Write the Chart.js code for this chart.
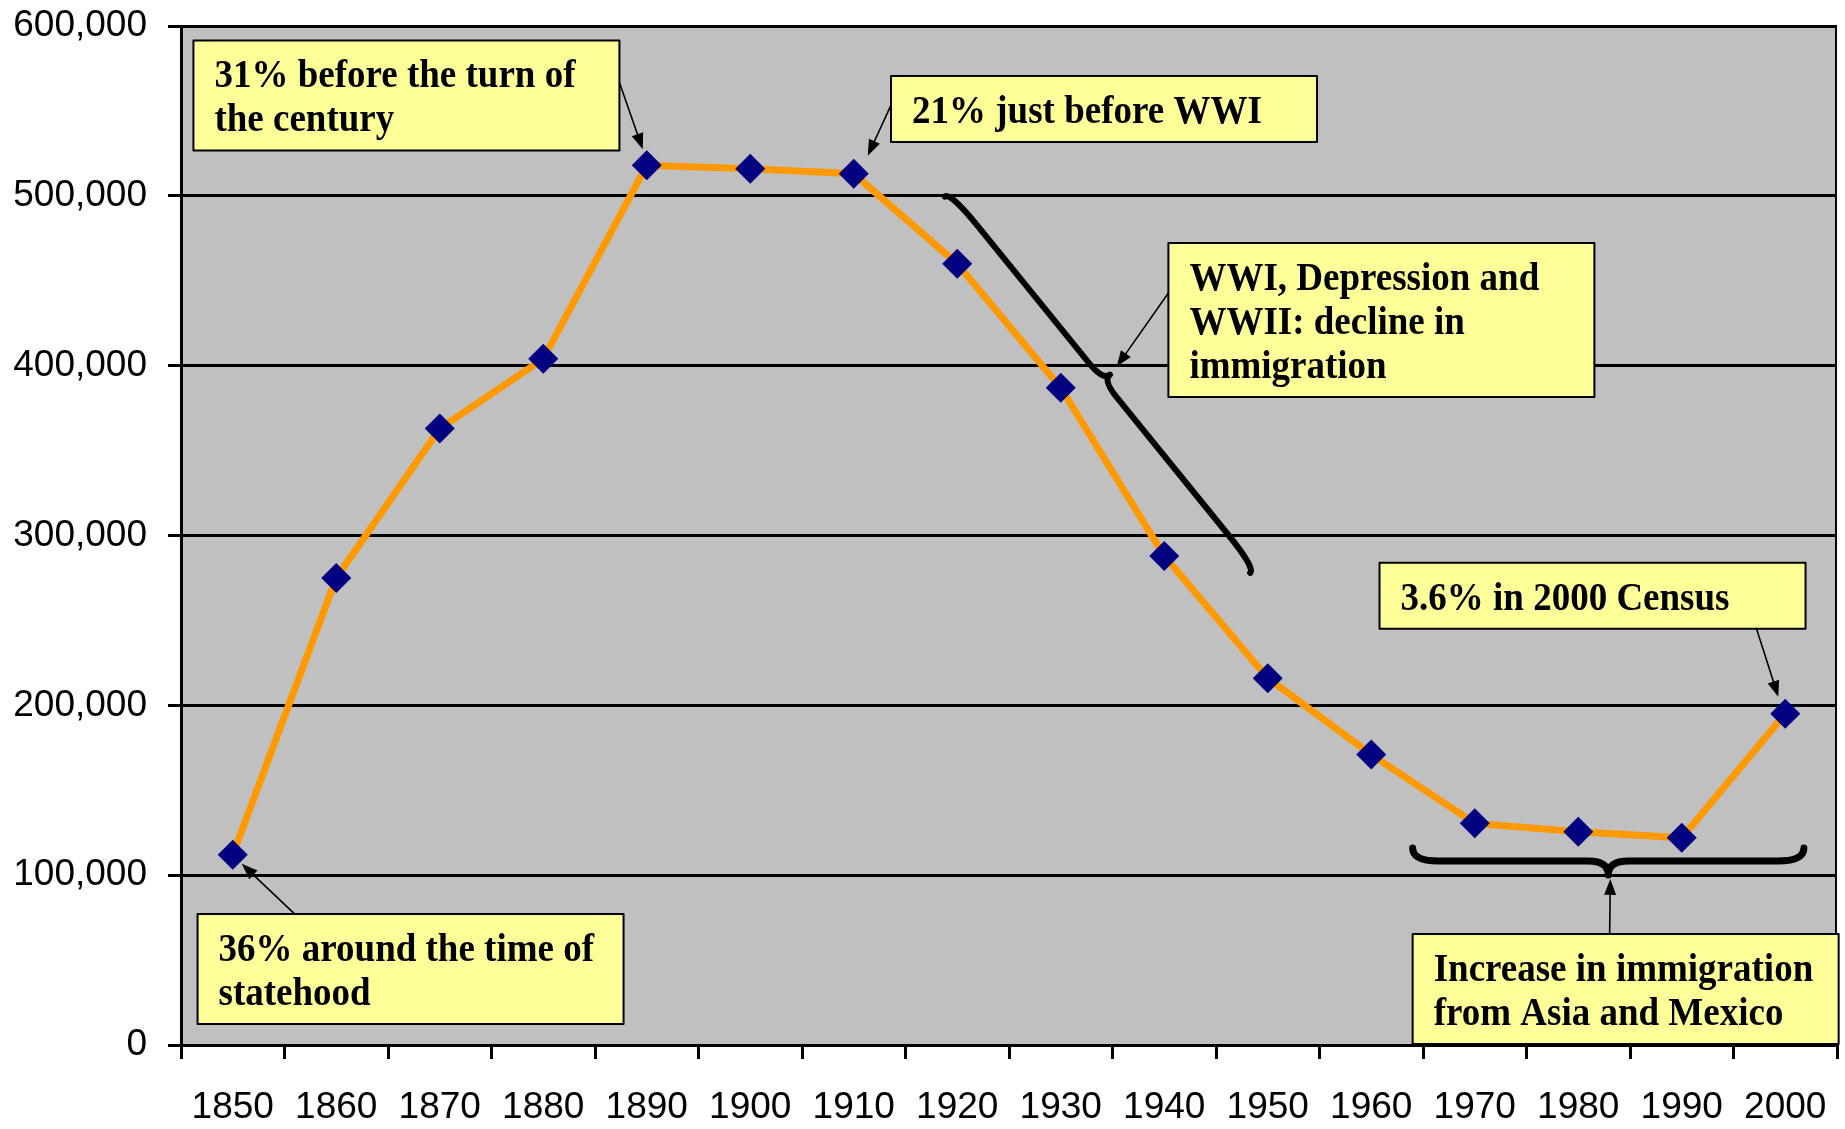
<!DOCTYPE html>
<html>
<head>
<meta charset="utf-8">
<title>Foreign-born population, 1850-2000</title>
<script src="https://cdn.jsdelivr.net/npm/chart.js@4.4.1/dist/chart.umd.min.js"></script>
<style>
  html, body { margin: 0; padding: 0; background: #fff; }
  #chart { display: block; }
</style>
</head>
<body>
<canvas id="chart" width="1845" height="1129"></canvas>
<script>
// census years and foreign-born count
const years = ['1850', '1860', '1870', '1880', '1890', '1900', '1910', '1920',
               '1930', '1940', '1950', '1960', '1970', '1980', '1990', '2000'];
const foreignBorn = [112000, 275000, 363000, 404000, 518000, 516000, 513000, 460000,
                     387000, 288000, 216000, 171000, 130500, 125500, 122000, 195000];
const yMin = 0;
const yMax = 600000;
const yStep = 100000;

// callout boxes: anchored in data space (category index, value), arrow goes to a point or a spot
const callouts = [
  { lines: ['31% before the turn of', 'the century'], x: -0.38, y: 591500,
    arrow: { from: [426, 42], point: 4, dx: -4, dy: -16 } },
  { lines: ['21% just before WWI'], x: 6.36, y: 570500,
    arrow: { from: [0, 29], point: 6, dx: 14, dy: -18 } },
  { lines: ['36% around the time of', 'statehood'], x: -0.34, y: 77200,
    arrow: { from: [97, 0], point: 0, dx: 9, dy: 9 } },
  { lines: ['WWI, Depression and', 'WWII: decline in', 'immigration'], x: 9.04, y: 472200,
    arrow: { from: [0, 50], at: [8.54, 399400] } },
  { lines: ['3.6% in 2000 Census'], x: 11.08, y: 284000,
    arrow: { from: [377, 66], point: 15, dx: -7, dy: -17 } },
  { lines: ['Increase in immigration', 'from Asia and Mexico'], x: 11.40, y: 65400,
    arrow: { from: [197, 0], at: [13.31, 97800] } }
];

// curly braces: from / to in data space
const braces = [
  { from: [6.88, 499600], to: [9.83, 278000], depth: 7, tip: 9, rEnd: 45, rTip: 22, side: -1, width: 6 },
  { from: [11.40, 116000], to: [15.18, 116000], depth: 13, tip: 14, rEnd: 26, rTip: 20, side: 1, width: 7 }
];

const BOX_W = 426;
const TEXT_FONT = 'bold 37px "Liberation Serif", "Times New Roman", serif';
const AXIS_FONT = { family: '"Liberation Sans", Arial, sans-serif', size: 37 };

const plotBackground = {
  id: 'plotBackground',
  beforeDraw(chart) {
    const { ctx, chartArea: a } = chart;
    ctx.save();
    ctx.fillStyle = '#ffffff';
    ctx.fillRect(0, 0, chart.width, chart.height);
    ctx.fillStyle = '#c0c0c0';
    ctx.fillRect(a.left, a.top, a.right - a.left, a.bottom - a.top);
    ctx.restore();
  },
  beforeDatasetsDraw(chart) {
    // right edge of the plot frame
    const { ctx, chartArea: a } = chart;
    ctx.save();
    ctx.strokeStyle = '#000';
    ctx.lineWidth = 2;
    ctx.beginPath();
    ctx.moveTo(a.right - 1, a.top);
    ctx.lineTo(a.right - 1, a.bottom);
    ctx.stroke();
    ctx.restore();
  }
};

function toPixel(chart, xv, yv) {
  return { x: chart.scales.x.getPixelForValue(xv), y: chart.scales.y.getPixelForValue(yv) };
}

function drawArrow(ctx, x0, y0, x1, y1) {
  const ang = Math.atan2(y1 - y0, x1 - x0);
  const c = Math.cos(ang), s = Math.sin(ang);
  const len = 16, half = 6;
  ctx.beginPath();
  ctx.moveTo(x0, y0);
  ctx.lineTo(x1 - c * len, y1 - s * len);
  ctx.stroke();
  ctx.beginPath();
  ctx.moveTo(x1, y1);
  ctx.lineTo(x1 - c * len + s * half, y1 - s * len - c * half);
  ctx.lineTo(x1 - c * len - s * half, y1 - s * len + c * half);
  ctx.closePath();
  ctx.fill();
}

function drawBrace(ctx, p0, p1, b) {
  const dx = p1.x - p0.x, dy = p1.y - p0.y;
  const L = Math.hypot(dx, dy);
  const ux = dx / L, uy = dy / L;
  const nx = -uy * b.side, ny = ux * b.side;
  const P = (u, v) => [p0.x + ux * u + nx * v, p0.y + uy * u + ny * v];
  ctx.beginPath();
  ctx.moveTo(...P(0, 0));
  ctx.quadraticCurveTo(...P(0, b.depth), ...P(b.rEnd, b.depth));
  ctx.lineTo(...P(L / 2 - b.rTip, b.depth));
  ctx.quadraticCurveTo(...P(L / 2, b.depth), ...P(L / 2, b.depth + b.tip));
  ctx.quadraticCurveTo(...P(L / 2, b.depth), ...P(L / 2 + b.rTip, b.depth));
  ctx.lineTo(...P(L - b.rEnd, b.depth));
  ctx.quadraticCurveTo(...P(L, b.depth), ...P(L, 0));
  ctx.stroke();
}

const calloutPlugin = {
  id: 'callouts',
  afterDatasetsDraw(chart) {
    const ctx = chart.ctx;
    const pts = chart.getDatasetMeta(0).data;
    ctx.save();
    ctx.lineCap = 'round';
    ctx.lineJoin = 'round';
    ctx.strokeStyle = '#000';
    ctx.fillStyle = '#000';

    braces.forEach(b => {
      ctx.lineWidth = b.width;
      drawBrace(ctx, toPixel(chart, b.from[0], b.from[1]), toPixel(chart, b.to[0], b.to[1]), b);
    });

    callouts.forEach(c => {
      const tl = toPixel(chart, c.x, c.y);
      const h = 22 + 44 * c.lines.length;
      ctx.fillStyle = '#ffff99';
      ctx.fillRect(tl.x, tl.y, BOX_W, h);
      ctx.lineWidth = 2;
      ctx.strokeStyle = '#000';
      ctx.strokeRect(tl.x, tl.y, BOX_W, h);

      ctx.fillStyle = '#000';
      ctx.font = TEXT_FONT;
      ctx.textBaseline = 'alphabetic';
      ctx.textAlign = 'left';
      c.lines.forEach((t, i) => {
        ctx.save();
        ctx.translate(tl.x + 21, tl.y + 47 + i * 44);
        ctx.scale(1, 1.08);
        ctx.fillText(t, 0, 0);
        ctx.restore();
      });

      const a = c.arrow;
      let target;
      if (a.point !== undefined) {
        target = { x: pts[a.point].x + a.dx, y: pts[a.point].y + a.dy };
      } else {
        target = toPixel(chart, a.at[0], a.at[1]);
      }
      ctx.lineWidth = 1.6;
      drawArrow(ctx, tl.x + a.from[0], tl.y + a.from[1], target.x, target.y);
    });
    ctx.restore();
  }
};

new Chart(document.getElementById('chart'), {
  type: 'line',
  data: {
    labels: years,
    datasets: [{
      data: foreignBorn,
      borderColor: '#ff9900',
      borderWidth: 7,
      tension: 0,
      pointStyle: 'rectRot',
      pointRadius: 15,
      pointBackgroundColor: '#000080',
      pointBorderColor: '#000080',
      pointBorderWidth: 0
    }]
  },
  options: {
    responsive: false,
    animation: false,
    locale: 'en-US',
    layout: { autoPadding: false, padding: { top: 26, right: 8, bottom: 0, left: 0 } },
    plugins: {
      legend: { display: false },
      tooltip: { enabled: false }
    },
    scales: {
      x: {
        offset: true,
        grid: { offset: true, drawOnChartArea: false, color: '#000', lineWidth: 3, tickLength: 14 },
        border: { color: '#000', width: 3 },
        ticks: { color: '#000', font: AXIS_FONT, padding: 27, maxRotation: 0, autoSkip: false },
        afterFit(scale) {
          scale.height = 84;
          scale.paddingLeft = 0;
          scale.paddingRight = 0;
        }
      },
      y: {
        min: yMin,
        max: yMax,
        grid: { color: '#000', lineWidth: 3, tickLength: 13 },
        border: { color: '#000', width: 3 },
        ticks: { stepSize: yStep, color: '#000', font: AXIS_FONT, padding: 21 },
        afterFit(scale) {
          scale.width = 181;
          // the tick padding should not push the plot top down
          scale.paddingTop = 0;
          scale.paddingBottom = 0;
        }
      }
    }
  },
  plugins: [plotBackground, calloutPlugin]
});
</script>
</body>
</html>
